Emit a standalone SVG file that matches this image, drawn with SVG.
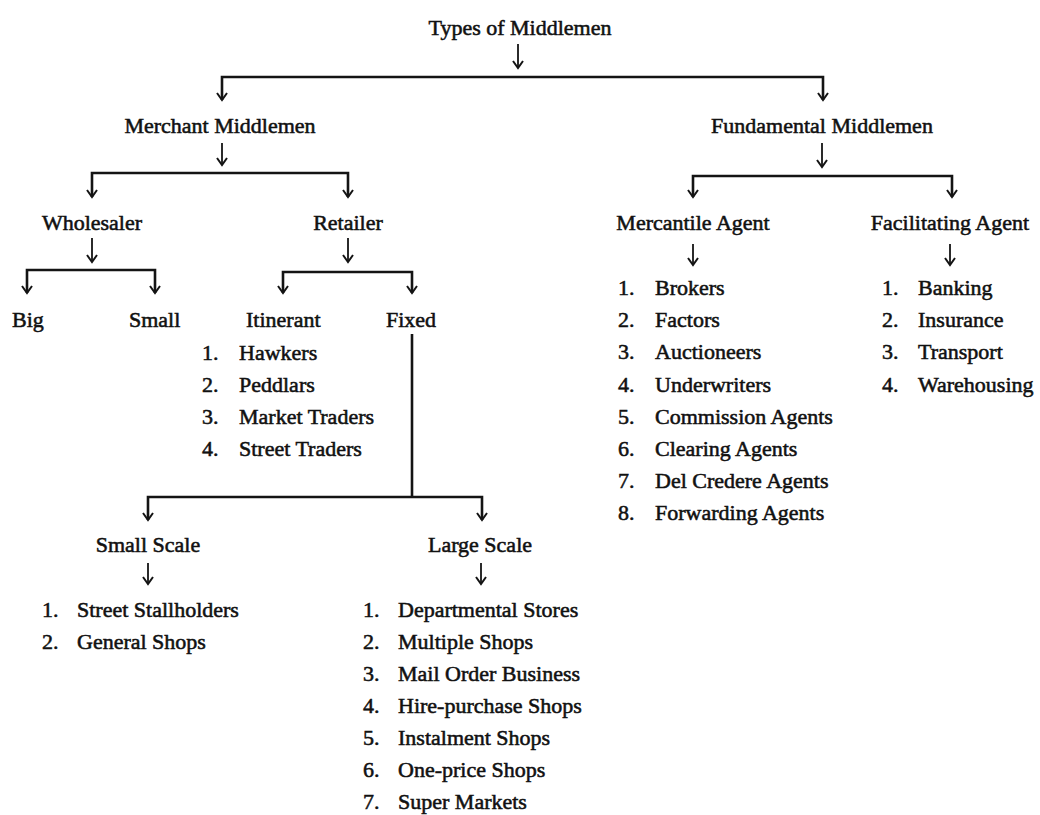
<svg xmlns="http://www.w3.org/2000/svg" width="1040" height="815" viewBox="0 0 1040 815">
  <style>
    text { font-family: "Liberation Serif", "Times New Roman", serif; font-size: 22px; fill: #111111; stroke: #111111; stroke-width: 0.55px; }
    .c { text-anchor: middle; }
    .link { fill: none; stroke: #141414; stroke-width: 2.6; stroke-linejoin: miter; }
    .arr { fill: none; stroke: #141414; stroke-width: 1.8; }
  </style>
  <defs>
    <marker id="head" markerUnits="userSpaceOnUse" viewBox="-9 -7 11 14" markerWidth="11" markerHeight="14" refX="0" refY="0" orient="auto-start-reverse" overflow="visible">
      <path d="M-7,-5 L0,0 L-7,5" fill="none" stroke="#141414" stroke-width="2"/>
    </marker>
  </defs>
  <rect width="1040" height="815" fill="#ffffff"/>

  <!-- connectors -->
  <g id="connectors">
    <line class="arr" x1="518" y1="44" x2="518" y2="68" marker-end="url(#head)"/>
    <path class="link" d="M222,100 V77 H823 V100" marker-start="url(#head)" marker-end="url(#head)"/>

    <line class="arr" x1="222" y1="143" x2="222" y2="165" marker-end="url(#head)"/>
    <path class="link" d="M92,197 V173 H348 V197" marker-start="url(#head)" marker-end="url(#head)"/>

    <line class="arr" x1="822" y1="143" x2="822" y2="167" marker-end="url(#head)"/>
    <path class="link" d="M693,197 V176 H952 V197" marker-start="url(#head)" marker-end="url(#head)"/>

    <line class="arr" x1="92" y1="238" x2="92" y2="262" marker-end="url(#head)"/>
    <path class="link" d="M27,293 V270 H155 V293" marker-start="url(#head)" marker-end="url(#head)"/>

    <line class="arr" x1="348" y1="238" x2="348" y2="262" marker-end="url(#head)"/>
    <path class="link" d="M283,293 V272 H412 V293" marker-start="url(#head)" marker-end="url(#head)"/>

    <line class="arr" x1="693" y1="244" x2="693" y2="265" marker-end="url(#head)"/>
    <line class="arr" x1="950" y1="244" x2="950" y2="265" marker-end="url(#head)"/>

    <line class="link" x1="412" y1="334" x2="412" y2="497"/>
    <path class="link" d="M148,520 V497 H482 V520" marker-start="url(#head)" marker-end="url(#head)"/>

    <line class="arr" x1="148" y1="563" x2="148" y2="584" marker-end="url(#head)"/>
    <line class="arr" x1="481" y1="563" x2="481" y2="584" marker-end="url(#head)"/>
  </g>

  <g id="types-of-middlemen"><text class="c" x="520" y="35">Types of Middlemen</text></g>
  <g id="merchant-middlemen"><text class="c" x="220" y="133">Merchant Middlemen</text></g>
  <g id="fundamental-middlemen"><text class="c" x="822" y="133">Fundamental Middlemen</text></g>

  <g id="wholesaler"><text class="c" x="92" y="230">Wholesaler</text></g>
  <g id="retailer"><text class="c" x="348" y="230">Retailer</text></g>
  <g id="big"><text x="12" y="327">Big</text></g>
  <g id="small"><text x="129" y="327">Small</text></g>
  <g id="fixed"><text x="386" y="327">Fixed</text></g>

  <g id="itinerant">
    <text x="246" y="327">Itinerant</text>
    <text x="202" y="360">1.</text><text x="239" y="360">Hawkers</text>
    <text x="202" y="392">2.</text><text x="239" y="392">Peddlars</text>
    <text x="202" y="424">3.</text><text x="239" y="424">Market Traders</text>
    <text x="202" y="456">4.</text><text x="239" y="456">Street Traders</text>
  </g>

  <g id="mercantile-agent">
    <text class="c" x="693" y="230">Mercantile Agent</text>
    <text x="618" y="295">1.</text><text x="655" y="295">Brokers</text>
    <text x="618" y="327">2.</text><text x="655" y="327">Factors</text>
    <text x="618" y="359">3.</text><text x="655" y="359">Auctioneers</text>
    <text x="618" y="392">4.</text><text x="655" y="392">Underwriters</text>
    <text x="618" y="424">5.</text><text x="655" y="424">Commission Agents</text>
    <text x="618" y="456">6.</text><text x="655" y="456">Clearing Agents</text>
    <text x="618" y="488">7.</text><text x="655" y="488">Del Credere Agents</text>
    <text x="618" y="520">8.</text><text x="655" y="520">Forwarding Agents</text>
  </g>

  <g id="facilitating-agent">
    <text class="c" x="950" y="230">Facilitating Agent</text>
    <text x="882" y="295">1.</text><text x="918" y="295">Banking</text>
    <text x="882" y="327">2.</text><text x="918" y="327">Insurance</text>
    <text x="882" y="359">3.</text><text x="918" y="359">Transport</text>
    <text x="882" y="392">4.</text><text x="918" y="392">Warehousing</text>
  </g>

  <g id="small-scale">
    <text class="c" x="148" y="552">Small Scale</text>
    <text x="42" y="617">1.</text><text x="77" y="617">Street Stallholders</text>
    <text x="42" y="649">2.</text><text x="77" y="649">General Shops</text>
  </g>

  <g id="large-scale">
    <text class="c" x="480" y="552">Large Scale</text>
    <text x="363" y="617">1.</text><text x="398" y="617">Departmental Stores</text>
    <text x="363" y="649">2.</text><text x="398" y="649">Multiple Shops</text>
    <text x="363" y="681">3.</text><text x="398" y="681">Mail Order Business</text>
    <text x="363" y="713">4.</text><text x="398" y="713">Hire-purchase Shops</text>
    <text x="363" y="745">5.</text><text x="398" y="745">Instalment Shops</text>
    <text x="363" y="777">6.</text><text x="398" y="777">One-price Shops</text>
    <text x="363" y="809">7.</text><text x="398" y="809">Super Markets</text>
  </g>
</svg>
